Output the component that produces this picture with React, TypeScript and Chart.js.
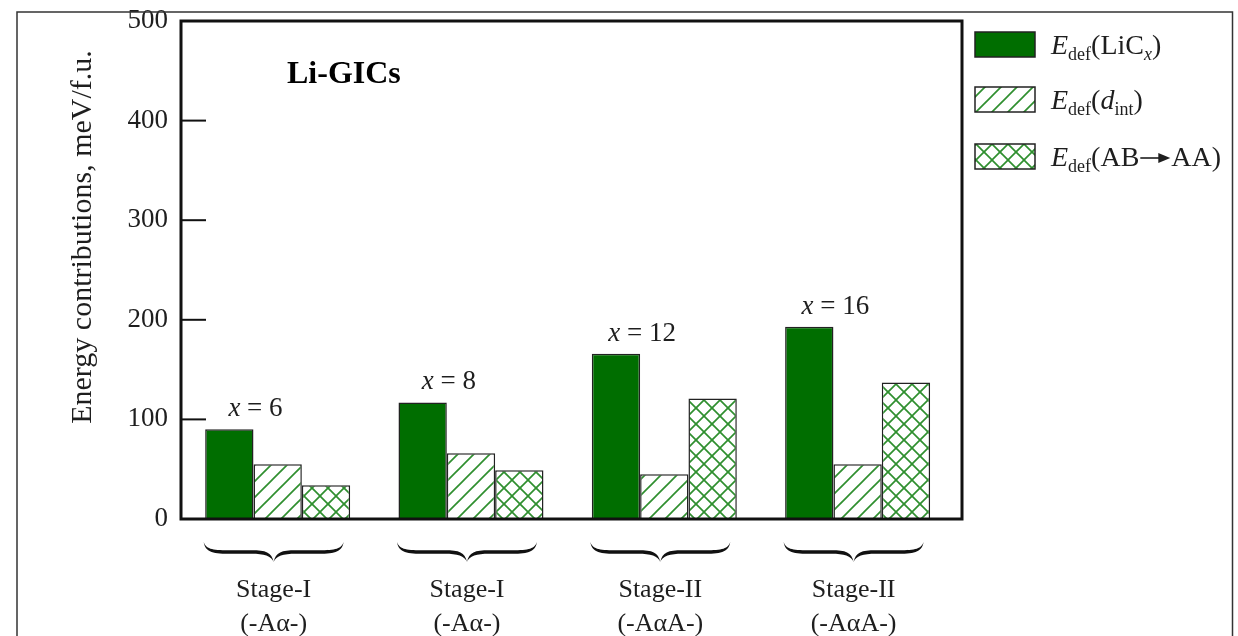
import React, { useEffect, useRef } from 'react';
import { Chart, registerables } from 'chart.js';

Chart.register(...registerables);

// ---- data ----
const groupPositions = [1, 2, 3, 4];
const stageLabels = ['Stage-I', 'Stage-I', 'Stage-II', 'Stage-II'];
const stageSubLabels = ['(-Aα-)', '(-Aα-)', '(-AαA-)', '(-AαA-)'];
const xValues = ['6', '8', '12', '16'];
const eLiCx = [90, 117, 166, 193];
const eDint = [55, 66, 45, 55];
const eABAA = [34, 49, 121, 137];
const yTickValues = [0, 100, 200, 300, 400, 500];
const yTitle = 'Energy contributions, meV/f.u.';
const panelTitle = 'Li-GICs';

const SERIF = '"Liberation Serif", "Times New Roman", serif';
const TXT = '#1e1e1e';
const GREEN = '#006e00';
const HATCH = '#2f8f2f';

function makeHatch(ctx: CanvasRenderingContext2D, cross: boolean) {
  const s = 16;
  const c = document.createElement('canvas');
  c.width = s;
  c.height = s;
  const g = c.getContext('2d')!;
  g.fillStyle = '#ffffff';
  g.fillRect(0, 0, s, s);
  g.strokeStyle = HATCH;
  g.lineWidth = 1.7;
  const line = (x1: number, y1: number, x2: number, y2: number) => {
    g.beginPath();
    g.moveTo(x1, y1);
    g.lineTo(x2, y2);
    g.stroke();
  };
  line(-2, s + 2, s + 2, -2);
  line(-2, 2, 2, -2);
  line(s - 2, s + 2, s + 2, s - 2);
  if (cross) {
    line(-2, -2, s + 2, s + 2);
    line(s - 2, -2, s + 2, 2);
    line(-2, s - 2, 2, s + 2);
  }
  return ctx.createPattern(c, 'repeat')!;
}

function drawBrace(ctx: CanvasRenderingContext2D, cx: number, half: number, yTop: number, yMid: number, yCusp: number) {
  const xl = cx - half;
  const xr = cx + half;
  const t = 1.8;
  ctx.beginPath();
  ctx.moveTo(xl, yTop);
  ctx.bezierCurveTo(xl + 3, yMid - 2, xl + 10, yMid - t, xl + 28, yMid - t);
  ctx.lineTo(cx - 22, yMid - t);
  ctx.bezierCurveTo(cx - 8, yMid - t, cx - 2, yMid, cx, yCusp);
  ctx.bezierCurveTo(cx + 2, yMid, cx + 8, yMid - t, cx + 22, yMid - t);
  ctx.lineTo(xr - 28, yMid - t);
  ctx.bezierCurveTo(xr - 10, yMid - t, xr - 3, yMid - 2, xr, yTop);
  ctx.bezierCurveTo(xr - 2, yMid + 1, xr - 10, yMid + t, xr - 28, yMid + t);
  ctx.lineTo(cx + 22, yMid + t);
  ctx.bezierCurveTo(cx + 10, yMid + t, cx + 2, yMid + 4, cx, yCusp);
  ctx.bezierCurveTo(cx - 2, yMid + 4, cx - 10, yMid + t, cx - 22, yMid + t);
  ctx.lineTo(xl + 28, yMid + t);
  ctx.bezierCurveTo(xl + 10, yMid + t, xl + 2, yMid + 1, xl, yTop);
  ctx.closePath();
  ctx.fillStyle = '#111';
  ctx.fill();
}

type Run = { text: string; size: number; italic?: boolean; sub?: boolean; arrow?: boolean };

function drawRuns(ctx: CanvasRenderingContext2D, runs: Run[], x: number, baseline: number) {
  let cx = x;
  for (const r of runs) {
    if (r.arrow) {
      const len = 31;
      const y = baseline - 8;
      ctx.strokeStyle = TXT;
      ctx.lineWidth = 1.6;
      ctx.beginPath();
      ctx.moveTo(cx + 1, y);
      ctx.lineTo(cx + len - 10, y);
      ctx.stroke();
      ctx.beginPath();
      ctx.moveTo(cx + len - 12, y - 5);
      ctx.lineTo(cx + len, y);
      ctx.lineTo(cx + len - 12, y + 5);
      ctx.closePath();
      ctx.fillStyle = TXT;
      ctx.fill();
      cx += len + 1;
      continue;
    }
    ctx.font = `${r.italic ? 'italic ' : ''}${r.size}px ${SERIF}`;
    ctx.fillStyle = TXT;
    ctx.textAlign = 'left';
    ctx.textBaseline = 'alphabetic';
    ctx.fillText(r.text, cx, baseline + (r.sub ? 6 : 0));
    cx += ctx.measureText(r.text).width;
  }
  return cx - x;
}

function measureRuns(ctx: CanvasRenderingContext2D, runs: Run[]) {
  let w = 0;
  for (const r of runs) {
    ctx.font = `${r.italic ? 'italic ' : ''}${r.size}px ${SERIF}`;
    w += ctx.measureText(r.text).width;
  }
  return w;
}

const overlayPlugin = {
  id: 'overlay',
  afterDraw(chart: any) {
    const ctx: CanvasRenderingContext2D = chart.ctx;
    const area = chart.chartArea;
    const xs = chart.scales.x;
    const ys = chart.scales.y;
    ctx.save();

    // outer frame
    ctx.strokeStyle = '#333';
    ctx.lineWidth = 1.5;
    ctx.strokeRect(17, 12, 1215.5, 700);

    // plot border
    ctx.strokeStyle = '#111';
    ctx.lineWidth = 3;
    ctx.strokeRect(area.left, area.top, area.right - area.left, area.bottom - area.top);

    // inward y ticks
    ctx.lineWidth = 2;
    for (const v of yTickValues) {
      const y = ys.getPixelForValue(v);
      ctx.beginPath();
      ctx.moveTo(area.left, y);
      ctx.lineTo(area.left + 25, y);
      ctx.stroke();
    }

    // y title
    ctx.save();
    ctx.translate(83, 237);
    ctx.rotate(-Math.PI / 2);
    ctx.font = `30px ${SERIF}`;
    ctx.fillStyle = TXT;
    ctx.textAlign = 'center';
    ctx.textBaseline = 'middle';
    ctx.fillText(yTitle, 0, 0);
    ctx.restore();

    // panel title
    ctx.font = `bold 32px ${SERIF}`;
    ctx.fillStyle = '#000';
    ctx.textAlign = 'left';
    ctx.textBaseline = 'alphabetic';
    ctx.fillText(panelTitle, 287, 83);

    // x = n annotations
    const meta = chart.getDatasetMeta(0);
    meta.data.forEach((el: any, i: number) => {
      const runs: Run[] = [
        { text: 'x', size: 27, italic: true },
        { text: ' = ' + xValues[i], size: 27 },
      ];
      const w = measureRuns(ctx, runs);
      const cx = el.x + el.width / 2 + 2;
      drawRuns(ctx, runs, cx - w / 2, el.y - 13);
    });

    // braces and stage labels
    groupPositions.forEach((g, i) => {
      const cx = xs.getPixelForValue(g) - 4;
      drawBrace(ctx, cx, 70, area.bottom + 23, area.bottom + 33, area.bottom + 43);
      ctx.font = `26px ${SERIF}`;
      ctx.fillStyle = TXT;
      ctx.textAlign = 'center';
      ctx.textBaseline = 'alphabetic';
      ctx.fillText(stageLabels[i], cx, area.bottom + 78);
      ctx.fillText(stageSubLabels[i], cx, area.bottom + 112);
    });

    // legend
    const boxX = 975;
    const boxW = 60;
    const boxH = 25;
    const items = [
      { y: 32, fill: GREEN, runs: [
        { text: 'E', size: 28, italic: true },
        { text: 'def', size: 18, sub: true },
        { text: '(LiC', size: 28 },
        { text: 'x', size: 18, italic: true, sub: true },
        { text: ')', size: 28 },
      ] as Run[] },
      { y: 87, fill: chart.data.datasets[1].backgroundColor, runs: [
        { text: 'E', size: 28, italic: true },
        { text: 'def', size: 18, sub: true },
        { text: '(', size: 28 },
        { text: 'd', size: 28, italic: true },
        { text: 'int', size: 18, sub: true },
        { text: ')', size: 28 },
      ] as Run[] },
      { y: 144, fill: chart.data.datasets[2].backgroundColor, runs: [
        { text: 'E', size: 28, italic: true },
        { text: 'def', size: 18, sub: true },
        { text: '(AB', size: 28 },
        { text: '', size: 28, arrow: true },
        { text: 'AA)', size: 28 },
      ] as Run[] },
    ];
    for (const it of items) {
      ctx.fillStyle = it.fill;
      ctx.fillRect(boxX, it.y, boxW, boxH);
      ctx.strokeStyle = '#222';
      ctx.lineWidth = 1.5;
      ctx.strokeRect(boxX, it.y, boxW, boxH);
      drawRuns(ctx, it.runs, 1051, it.y + 22);
    }

    ctx.restore();
  },
};

export default function App() {
  const ref = useRef<HTMLCanvasElement>(null);

  useEffect(() => {
    const canvas = ref.current!;
    const ctx = canvas.getContext('2d')!;
    const slash = makeHatch(ctx, false);
    const cross = makeHatch(ctx, true);
    const toPts = (arr: number[]) => arr.map((v, i) => ({ x: groupPositions[i], y: v }));

    const chart = new Chart(canvas, {
      type: 'bar',
      data: {
        datasets: [
          { label: 'Edef(LiCx)', data: toPts(eLiCx), backgroundColor: GREEN, borderColor: '#222', borderWidth: 1.5 },
          { label: 'Edef(dint)', data: toPts(eDint), backgroundColor: slash, borderColor: '#222', borderWidth: 1.5 },
          { label: 'Edef(AB→AA)', data: toPts(eABAA), backgroundColor: cross, borderColor: '#222', borderWidth: 1.5 },
        ] as any,
      },
      options: {
        responsive: false,
        animation: false,
        devicePixelRatio: 1,
        layout: { padding: { top: 21, right: 276, bottom: 117, left: 0 } },
        datasets: { bar: { categoryPercentage: 0.75, barPercentage: 1.0 } } as any,
        plugins: { legend: { display: false }, tooltip: { enabled: false } },
        scales: {
          x: {
            type: 'linear',
            display: false,
            min: 0.5,
            max: 4.54,
            offset: false,
            ticks: { stepSize: 1, includeBounds: false },
          },
          y: {
            min: 0,
            max: 500,
            afterFit: (s: any) => {
              s.width = 181;
              s.paddingTop = 0;
              s.paddingBottom = 0;
            },
            ticks: {
              stepSize: 100,
              padding: 13,
              color: TXT,
              font: { family: SERIF, size: 27 },
            },
            grid: { display: false, drawTicks: false },
            border: { display: false },
          },
        },
      } as any,
      plugins: [overlayPlugin],
    });
    return () => chart.destroy();
  }, []);

  return (
    <div style={{ position: 'fixed', left: 0, top: 0, width: 1238, height: 636, background: '#fff' }}>
      <canvas ref={ref} width={1238} height={636} style={{ display: 'block' }} />
    </div>
  );
}
